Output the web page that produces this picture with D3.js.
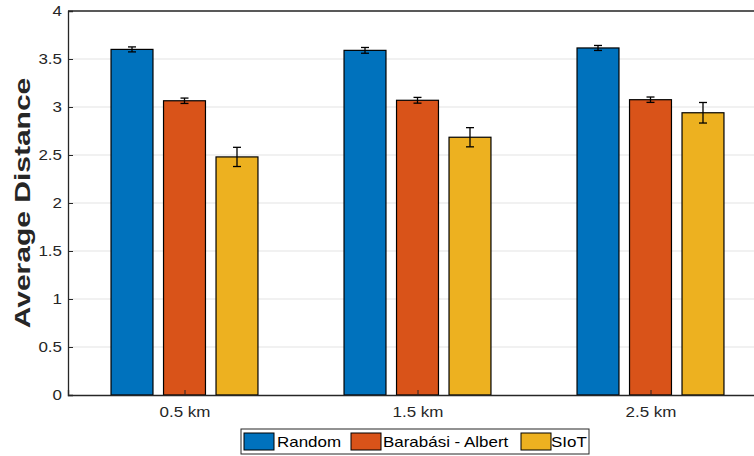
<!DOCTYPE html>
<html><head><meta charset="utf-8">
<script src="https://cdn.jsdelivr.net/npm/d3@7"></script>
<style>body{margin:0;background:#fff}svg{display:block}text{font-family:"Liberation Sans",Arial,Helvetica,sans-serif}</style>
</head><body><svg id="c" width="754" height="456"></svg>
<script>
const categories = ["0.5 km", "1.5 km", "2.5 km"];
const seriesNames = ["Random", "Barabási - Albert", "SIoT"];
const randomVals = [3.60, 3.59, 3.615];
const baVals = [3.065, 3.07, 3.076];
const siotVals = [2.48, 2.685, 2.94];
const randomErr = [0.026, 0.03, 0.026];
const baErr = [0.028, 0.03, 0.028];
const siotErr = [0.10, 0.10, 0.107];
const yTicks = [0, 0.5, 1, 1.5, 2, 2.5, 3, 3.5, 4];
const colors = ["#0072BD", "#D95319", "#EDB120"];

const series = [
  {name: seriesNames[0], vals: randomVals, err: randomErr},
  {name: seriesNames[1], vals: baVals, err: baErr},
  {name: seriesNames[2], vals: siotVals, err: siotErr}
];

const svg = d3.select("#c");
const L = 68, T = 11, B = 395, R = 767;
const x = d3.scaleLinear().domain([0.5, 3.5]).range([L, R]);
const y = d3.scaleLinear().domain([0, 4]).range([B, T]);
const offset = 0.2253, bw = 0.18;
const SX = 1.17;
const axisCol = "#262626";

// grid
svg.append("g").selectAll("line").data(yTicks.slice(1)).join("line")
  .attr("x1", L).attr("x2", 754).attr("y1", d => y(d)).attr("y2", d => y(d))
  .attr("stroke", "#e3e3e3").attr("stroke-width", 1);

// bars
series.forEach((s, si) => {
  const g = svg.append("g");
  g.selectAll("rect").data(s.vals).join("rect")
    .attr("x", (d, i) => x(i + 1 + (si - 1) * offset - bw / 2))
    .attr("width", x(bw) - x(0))
    .attr("y", d => y(d))
    .attr("height", d => y(0) - y(d))
    .attr("fill", colors[si]).attr("stroke", "#000").attr("stroke-width", 1.2);
});
// error bars
series.forEach((s, si) => {
  const g = svg.append("g").attr("stroke", "#000").attr("stroke-width", 1.3);
  s.vals.forEach((v, i) => {
    const cx = x(i + 1 + (si - 1) * offset);
    const e = s.err[i];
    g.append("line").attr("x1", cx).attr("x2", cx).attr("y1", y(v - e)).attr("y2", y(v + e));
    [v - e, v + e].forEach(t => g.append("line").attr("x1", cx - 4).attr("x2", cx + 4).attr("y1", y(t)).attr("y2", y(t)));
  });
});

// axes
const ya = svg.append("g").attr("transform", `translate(${L},0)`)
  .call(d3.axisLeft(y).tickValues(yTicks).tickSize(-5).tickFormat(d3.format("~g")));
const xa = svg.append("g").attr("transform", `translate(0,${B})`)
  .call(d3.axisBottom(x).tickValues([1, 2, 3]).tickSize(-5).tickFormat(d => categories[d - 1]));
[ya, xa].forEach(a => {
  a.select(".domain").attr("stroke", axisCol).attr("stroke-width", 1.3);
  a.selectAll(".tick line").attr("stroke", axisCol).attr("stroke-width", 1);
  a.selectAll("text").attr("fill", axisCol).attr("font-size", 14.5)
    .attr("font-family", "Liberation Sans, Arial, sans-serif");
});
ya.selectAll(".tick text").attr("x", -6)
  .attr("transform", `translate(-6,0) scale(${SX},1) translate(6,0)`);
xa.selectAll(".tick text").attr("y", 12).attr("transform", `scale(${SX},1)`);
// top border
svg.append("line").attr("x1", L).attr("x2", 754).attr("y1", T).attr("y2", T)
  .attr("stroke", axisCol).attr("stroke-width", 1.3);

// y label
svg.append("text").attr("transform", `translate(30,${(T + B) / 2}) rotate(-90) scale(1,0.75)`)
  .attr("text-anchor", "middle").attr("font-weight", "bold").attr("font-size", 30)
  .attr("fill", axisCol).text("Average Distance");

// legend
const lg = svg.append("g");
lg.append("rect").attr("x", 241).attr("y", 429).attr("width", 348).attr("height", 25)
  .attr("fill", "#fff").attr("stroke", axisCol).attr("stroke-width", 1);
const items = [{px: 244, tx: 277}, {px: 351, tx: 383}, {px: 521, tx: 551}];
series.forEach((s, i) => {
  lg.append("rect").attr("x", items[i].px).attr("y", 433).attr("width", 30).attr("height", 17)
    .attr("fill", colors[i]).attr("stroke", "#000").attr("stroke-width", 1);
  lg.append("text").attr("transform", `translate(${items[i].tx},447) scale(${SX},1)`)
    .attr("font-size", 14.5).attr("fill", "#000").text(s.name);
});
</script></body></html>
